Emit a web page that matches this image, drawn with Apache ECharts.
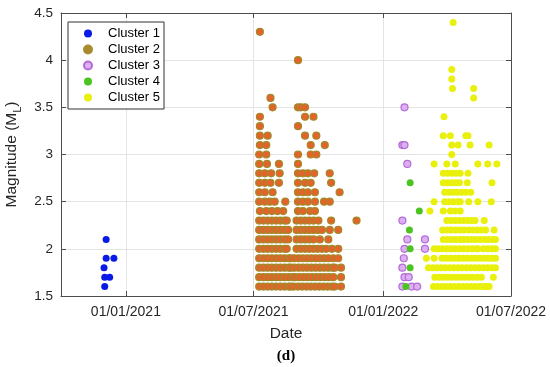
<!DOCTYPE html>
<html><head><meta charset="utf-8">
<script src="https://cdn.jsdelivr.net/npm/echarts@6/dist/echarts.min.js"></script>
<style>html,body{margin:0;padding:0;background:#fff}#c{width:550px;height:367px}</style>
</head><body><div id="c"></div>
<script>
// ---------- data ----------
const xMin = '2020-10-01';
const xMax = '2022-07-01';
const xTickDates = ['2021-01-01', '2021-07-01', '2022-01-01', '2022-07-01'];
const yMin = 1.5, yMax = 4.5, yStep = 0.5;
const clusterNames = ['Cluster 1', 'Cluster 2', 'Cluster 3', 'Cluster 4', 'Cluster 5'];

// rows: [magnitude, [dates]]
const cluster1Rows = [
  [2.1, ['2020-12-04']],
  [1.9, ['2020-12-04', '2020-12-15']],
  [1.8, ['2020-12-01']],
  [1.7, ['2020-12-02', '2020-12-09']],
  [1.6, ['2020-12-02']]
];

const cluster2Rows = [
  [4.3, ['07-10']],
  [4.0, ['09-02']],
  [3.6, ['07-25']],
  [3.5, ['07-28', '09-02', '09-06', '09-12']],
  [3.4, ['07-10', '09-12', '09-24']],
  [3.3, ['07-10', '09-02']],
  [3.2, ['07-10', '07-21', '09-12', '09-28']],
  [3.1, ['07-10', '07-19', '09-20', '10-10']],
  [3.0, ['07-09', '07-19', '09-02', '09-20', '09-28']],
  [2.9, ['07-09', '07-20', '08-06', '09-02']],
  [2.8, ['07-09', '07-17', '07-26', '08-07', '09-02', '09-09', '09-16', '09-25', '10-17']],
  [2.7, ['07-09', '07-17', '07-25', '08-06', '09-02', '09-12', '09-20', '10-19']],
  [2.6, ['07-09', '07-17', '07-28', '09-02', '09-09', '09-16', '09-26', '10-31']],
  [2.5, ['07-09', '07-17', '07-24', '07-31', '08-15', '09-02', '09-09', '09-16', '09-26', '10-09', '10-17']],
  [2.4, ['07-10', '07-19', '07-27', '08-04', '08-12', '09-02', '09-09', '09-19', '09-26']],
  [2.3, ['07-09', '07-15', '07-21', '07-27', '08-02', '08-08', '08-14', '08-17', '08-31', '09-06', '09-12', '09-18', '09-24', '10-01', '10-19', '11-24']],
  [2.2, ['07-09', '07-15', '07-21', '07-27', '08-02', '08-08', '08-14', '08-19', '08-31', '09-06', '09-12', '09-18', '09-24', '09-30', '10-06', '10-17', '10-29']],
  [2.1, ['07-09', '07-15', '07-21', '07-27', '08-02', '08-08', '08-14', '08-19', '08-31', '09-06', '09-12', '09-18', '09-24', '10-03', '10-15']],
  [2.0, ['07-09', '07-15', '07-21', '07-27', '08-02', '08-08', '08-14', '08-17', '08-31', '09-06', '09-12', '09-18', '09-24', '09-30', '10-06', '10-12', '10-20', '10-29']],
  [1.9, ['07-09', '07-15', '07-21', '07-27', '08-02', '08-08', '08-14', '08-20', '08-23', '08-28', '09-03', '09-09', '09-15', '09-21', '09-27', '10-03', '10-09', '10-15', '10-22', '10-29']],
  [1.8, ['07-09', '07-15', '07-21', '07-27', '08-02', '08-08', '08-14', '08-20', '08-23', '08-28', '09-03', '09-09', '09-15', '09-21', '09-27', '10-03', '10-09', '10-15', '10-21', '10-24', '11-02']],
  [1.7, ['07-09', '07-15', '07-21', '07-27', '08-02', '08-08', '08-14', '08-20', '08-26', '08-29', '09-04', '09-10', '09-16', '09-22', '09-28', '10-04', '10-10', '10-16', '10-22', '11-02']],
  [1.6, ['07-09', '07-15', '07-21', '07-27', '08-02', '08-08', '08-14', '08-20', '08-23', '08-27', '09-02', '09-08', '09-14', '09-20', '09-26', '10-02', '10-08', '10-14', '10-20', '10-24', '11-02']]
];
const cluster2Year = '2021';

const cluster3Rows = [
  [3.5, ['01-31']],
  [3.1, ['01-28', '01-31']],
  [2.9, ['02-04']],
  [2.3, ['01-28']],
  [2.1, ['02-04', '03-01']],
  [2.0, ['01-31', '03-01']],
  [1.9, ['01-30']],
  [1.8, ['01-28']],
  [1.7, ['01-31', '02-06']],
  [1.6, ['01-28', '02-10', '02-18']]
];
const cluster4Rows = [
  [2.7, ['02-08']],
  [2.4, ['02-21']],
  [2.2, ['02-07']],
  [2.0, ['02-08']],
  [1.8, ['02-08']],
  [1.6, ['02-02']]
];
const cluster5Rows = [
  [4.4, ['04-10']],
  [3.9, ['04-08']],
  [3.8, ['04-08']],
  [3.7, ['04-09', '05-09']],
  [3.6, ['05-09']],
  [3.4, ['03-28']],
  [3.2, ['03-27', '04-06', '04-28', '05-01']],
  [3.1, ['04-08', '04-17', '05-04', '05-31']],
  [3.0, ['04-08']],
  [2.9, ['03-14', '04-01', '04-13', '05-15', '05-29', '06-11']],
  [2.8, ['03-27', '04-02', '04-08', '04-14', '04-20', '05-01']],
  [2.7, ['03-27', '04-02', '04-08', '04-14', '04-19', '04-30', '06-04']],
  [2.6, ['03-29', '04-04', '04-10', '04-16', '04-22', '04-28', '05-05']],
  [2.5, ['03-14', '03-29', '04-04', '04-10', '04-16', '04-20', '05-02', '05-15', '06-03']],
  [2.4, ['03-08', '03-27', '04-06', '04-13', '04-20']],
  [2.3, ['04-01', '04-07', '04-13', '04-19', '04-25', '05-01', '05-06', '05-11', '05-24']],
  [2.2, ['03-26', '04-01', '04-07', '04-13', '04-19', '04-25', '05-02', '05-08', '05-14', '05-20', '05-26', '06-07']],
  [2.1, ['03-27', '04-02', '04-08', '04-14', '04-20', '04-24', '04-30', '05-06', '05-12', '05-18', '05-24', '05-30', '06-05', '06-09']],
  [2.0, ['03-14', '03-20', '03-26', '04-01', '04-07', '04-13', '04-19', '04-25', '05-01', '05-07', '05-13', '05-15', '05-23', '05-29', '06-04', '06-09']],
  [1.9, ['03-03', '03-14', '03-25', '03-31', '04-06', '04-12', '04-18', '04-24', '04-30', '05-06', '05-12', '05-18', '05-24', '05-30', '06-05', '06-09']],
  [1.8, ['03-06', '03-12', '03-18', '03-24', '03-30', '04-05', '04-11', '04-17', '04-23', '04-29', '05-05', '05-11', '05-17', '05-23', '05-29', '06-04', '06-09']],
  [1.7, ['03-15', '03-21', '03-27', '04-02', '04-08', '04-14', '04-20', '04-26', '05-02', '05-08', '05-14', '05-20', '06-06']],
  [1.6, ['03-13', '03-19', '03-25', '03-31', '04-06', '04-12', '04-18', '04-24', '04-30', '05-06', '05-12', '05-18', '05-24', '05-28', '05-31']]
];
const cluster345Year = '2022';

// ---------- build ----------
const ts = s => Date.parse(s + 'T00:00:00Z');
function flatten(rows, year) {
  const out = [];
  rows.forEach(([m, dates]) => dates.forEach(d => {
    const full = year ? year + '-' + d : d;
    out.push([ts(full), m]);
  }));
  return out;
}
const pad = n => (n < 10 ? '0' : '') + n;
const fmtDate = v => { const d = new Date(v); return pad(d.getUTCDate()) + '/' + pad(d.getUTCMonth() + 1) + '/' + d.getUTCFullYear(); };
const xTicks = xTickDates.map(ts);

const styles = [
  { color: '#0a1ae6' },
  { color: '#e5622a', borderColor: '#a08a2a', borderWidth: 1.2 },
  { color: '#dcb0f0', borderColor: '#b46ad8', borderWidth: 1.2 },
  { color: '#4cc41f' },
  { color: '#e8f00c' }
];
const datasets = [
  flatten(cluster1Rows, null),
  flatten(cluster2Rows, cluster2Year),
  flatten(cluster3Rows, cluster345Year),
  flatten(cluster4Rows, cluster345Year),
  flatten(cluster5Rows, cluster345Year)
];

const FONT = 'Liberation Sans, Arial, sans-serif';
const axisCol = '#4d4d4d';
const gridCol = '#e4e4e4';

const chart = echarts.init(document.getElementById('c'), null, { renderer: 'canvas' });
chart.setOption({
  animation: false,
  backgroundColor: '#fff',
  grid: { left: 61, right: 39, top: 13, bottom: 71, containLabel: false, outerBoundsMode: 'none' },
  legend: {
    orient: 'vertical', left: 68, top: 22,
    padding: [5, 4, 5, 15], itemGap: 3, itemWidth: 30, itemHeight: 8,
    borderColor: '#333', borderWidth: 1, backgroundColor: '#fff',
    textStyle: { fontSize: 13, fontFamily: FONT, color: '#000' },
    data: clusterNames.map((n, i) => i === 1 ? { name: n, itemStyle: { color: '#a98a2e', borderColor: '#a98a2e' } } : { name: n })
  },
  xAxis: [
    {
      type: 'value', position: 'bottom', min: ts(xMin), max: ts(xMax),
      axisLine: { show: true, onZero: false, lineStyle: { color: axisCol, width: 1 } },
      axisTick: { show: true, inside: true, length: 5, customValues: xTicks, lineStyle: { color: axisCol } },
      axisLabel: { customValues: xTicks, formatter: fmtDate, fontSize: 14, color: '#262626', margin: 9, fontFamily: FONT },
      splitLine: { show: true, lineStyle: { color: gridCol, width: 1 } },
      name: 'Date', nameLocation: 'middle', nameGap: 30,
      nameTextStyle: { fontSize: 15.5, color: '#262626', fontFamily: FONT }
    },
    {
      type: 'value', position: 'top', min: ts(xMin), max: ts(xMax),
      axisLine: { show: true, onZero: false, lineStyle: { color: axisCol, width: 1 } },
      axisTick: { show: true, inside: true, length: 5, customValues: xTicks, lineStyle: { color: axisCol } },
      axisLabel: { show: false }, splitLine: { show: false }
    }
  ],
  yAxis: [
    {
      type: 'value', position: 'left', min: yMin, max: yMax, interval: yStep,
      axisLine: { show: true, onZero: false, lineStyle: { color: axisCol, width: 1 } },
      axisTick: { show: true, inside: true, length: 5, lineStyle: { color: axisCol } },
      axisLabel: { fontSize: 13.5, color: '#262626', margin: 8, fontFamily: FONT },
      splitLine: { show: true, lineStyle: { color: gridCol, width: 1 } },
      name: '{m|Magnitude (M}{s|L}{m|)}', nameLocation: 'middle', nameGap: 38,
      nameTextStyle: {
        color: '#262626', fontFamily: FONT,
        rich: {
          m: { fontSize: 15.5, color: '#262626', fontFamily: FONT, lineHeight: 22, verticalAlign: 'middle' },
          s: { fontSize: 11, color: '#262626', fontFamily: FONT, lineHeight: 11, verticalAlign: 'bottom' }
        }
      }
    },
    {
      type: 'value', position: 'right', min: yMin, max: yMax, interval: yStep,
      axisLine: { show: true, onZero: false, lineStyle: { color: axisCol, width: 1 } },
      axisTick: { show: true, inside: true, length: 5, lineStyle: { color: axisCol } },
      axisLabel: { show: false }, splitLine: { show: false }
    }
  ],
  graphic: [{
    type: 'text', x: 286, y: 356,
    style: { text: '(d)', font: 'bold 15px "Liberation Serif", "Times New Roman", serif', fill: '#000', textAlign: 'center', textVerticalAlign: 'middle' }
  }],
  series: clusterNames.map((n, i) => ({
    name: n, type: 'scatter', xAxisIndex: 0, yAxisIndex: 0,
    symbol: 'circle', symbolSize: 7,
    itemStyle: Object.assign({ opacity: 1 }, styles[i]),
    emphasis: { disabled: true },
    data: datasets[i]
  }))
});
</script>
</body></html>
